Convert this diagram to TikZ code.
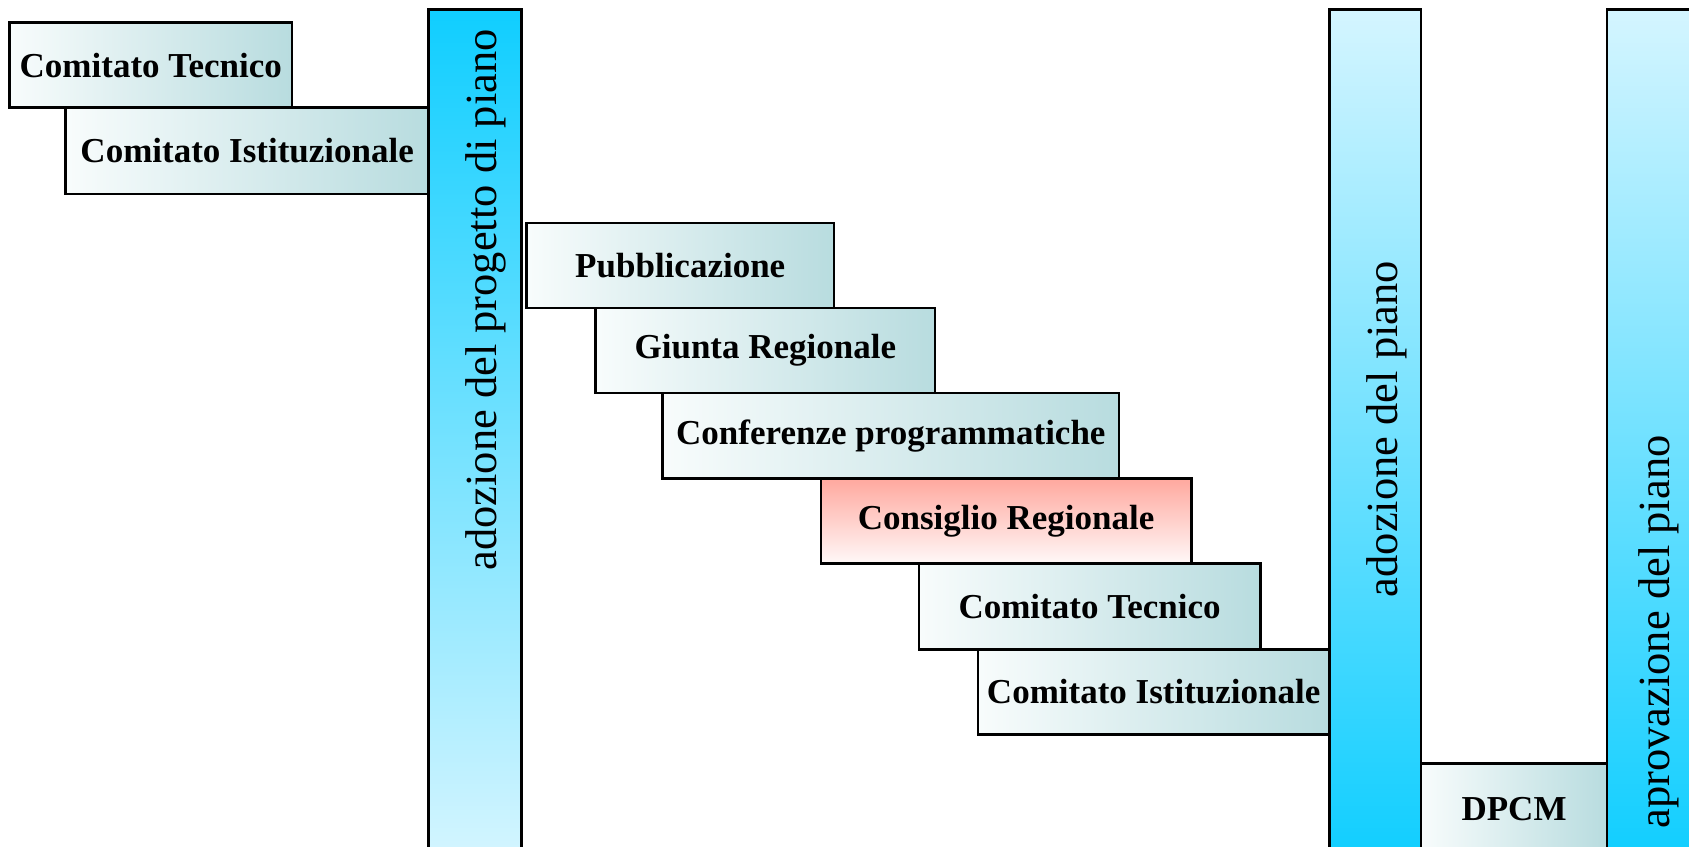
\documentclass[tikz,border=0pt]{standalone}
\usepackage{fontspec}
\setmainfont{Liberation Serif}
\definecolor{boxL}{HTML}{F8FCFC}
\definecolor{boxR}{HTML}{B8DCDF}
\definecolor{cyanD}{HTML}{10CEFF}
\definecolor{cyanL}{HTML}{D4F5FF}
\definecolor{redT}{HTML}{FFA89E}
\definecolor{redB}{HTML}{FFF8F8}
\begin{document}
\begin{tikzpicture}[x=1pt,y=-1pt,
  stage/.style={draw=black, line width=2.5pt, left color=boxL, right color=boxR,
    inner sep=0pt, outer sep=0pt, anchor=north west,
    font=\fontsize{35}{42}\selectfont\bfseries},
  redstage/.style={stage, top color=redT, bottom color=redB},
  barup/.style={draw=black, line width=2.5pt, inner sep=0pt, outer sep=0pt,
    anchor=north west, top color=cyanD, bottom color=cyanL},
  bardown/.style={barup, top color=cyanL, bottom color=cyanD},
  vlabel/.style={rotate=90, inner sep=0pt, font=\fontsize{44.5}{50}\selectfont}]
\useasboundingbox (0,0) rectangle (1689,846);
\fill[white] (0,0) rectangle (1689,846);
% first group
\node[stage, minimum width=282.2pt, minimum height=85.1pt] (ct1) at (9.7,22.6) {Comitato Tecnico};
\node[stage, minimum width=363pt, minimum height=86.2pt] (ci1) at (65.7,107.7) {Comitato Istituzionale};
\node[barup, minimum width=92.7pt, minimum height=850pt] (bar1) at (428.7,9.7) {};
\node[vlabel] (lab1) at (486,300) {adozione del progetto di piano};
% second group
\node[stage, minimum width=307.1pt, minimum height=85pt] (pub) at (526.7,223) {Pubblicazione};
\node[stage, minimum width=339.3pt, minimum height=85.2pt] (giunta) at (595.7,308) {Giunta Regionale};
\node[stage, minimum width=456.7pt, minimum height=85.1pt] (conf) at (662.5,393.2) {Conferenze programmatiche};
\node[redstage, minimum width=370.6pt, minimum height=85.1pt] (cons) at (820.8,478.3) {Consiglio Regionale};
\node[stage, minimum width=341.4pt, minimum height=86.1pt] (ct2) at (918.9,563.4) {Comitato Tecnico};
\node[stage, minimum width=351.2pt, minimum height=85.1pt] (ci2) at (978.1,649.5) {Comitato Istituzionale};
\node[bardown, minimum width=91.6pt, minimum height=850pt] (bar2) at (1329.3,9.7) {};
\node[vlabel] (lab2) at (1387,429) {adozione del piano};
% third group
\node[stage, minimum width=186.3pt, minimum height=90pt] (dpcm) at (1420.9,763.7) {DPCM};
\node[bardown, minimum width=100pt, minimum height=850pt] (bar3) at (1607.2,9.7) {};
\node[vlabel] (lab3) at (1659,632) {aprovazione del piano};
\end{tikzpicture}
\end{document}
